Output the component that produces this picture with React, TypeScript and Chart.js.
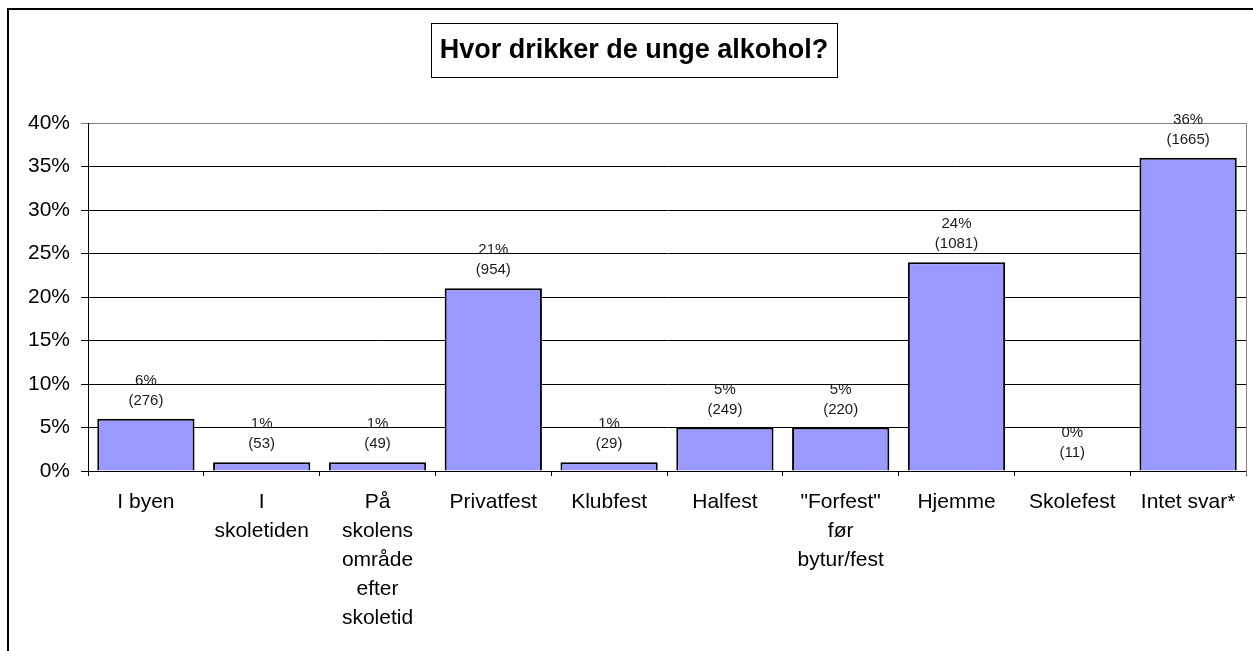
import React, { useEffect, useRef } from "react";
import { Chart, registerables } from "chart.js";

Chart.register(...registerables);

const titleText = "Hvor drikker de unge alkohol?";
const categories: string[][] = [
  ["I byen"],
  ["I", "skoletiden"],
  ["På", "skolens", "område", "efter", "skoletid"],
  ["Privatfest"],
  ["Klubfest"],
  ["Halfest"],
  ['"Forfest"', "før", "bytur/fest"],
  ["Hjemme"],
  ["Skolefest"],
  ["Intet svar*"],
];
const percentValues = [6, 1, 1, 21, 1, 5, 5, 24, 0, 36];
const counts = [276, 53, 49, 954, 29, 249, 220, 1081, 11, 1665];
const yMin = 0;
const yMax = 40;
const yStep = 5;

const FONT = "'Liberation Sans', Arial, Helvetica, sans-serif";

const decorPlugin = {
  id: "decor",
  beforeDraw(chart: any) {
    const ctx = chart.ctx;
    ctx.save();
    ctx.fillStyle = "#fff";
    ctx.fillRect(0, 0, chart.width, chart.height);
    ctx.restore();
  },
  afterDatasetsDraw(chart: any) {
    const ctx = chart.ctx;
    const meta = chart.getDatasetMeta(0);
    ctx.save();
    ctx.fillStyle = "#1a1a1a";
    ctx.font = `15px ${FONT}`;
    ctx.textAlign = "center";
    ctx.textBaseline = "middle";
    meta.data.forEach((bar: any, i: number) => {
      ctx.fillText(`${percentValues[i]}%`, bar.x, bar.y - 38);
      ctx.fillText(`(${counts[i]})`, bar.x, bar.y - 18);
    });
    ctx.restore();
  },
  afterDraw(chart: any) {
    const ctx = chart.ctx;
    const area = chart.chartArea;
    ctx.save();
    ctx.strokeStyle = "#808080";
    ctx.lineWidth = 1;
    ctx.beginPath();
    ctx.moveTo(Math.round(area.right) + 0.5, area.top);
    ctx.lineTo(Math.round(area.right) + 0.5, area.bottom + 4);
    ctx.stroke();
    ctx.strokeStyle = "#000";
    ctx.lineWidth = 2;
    ctx.strokeRect(8, 9, chart.width + 50, chart.height + 50);
    ctx.lineWidth = 1;
    ctx.strokeRect(431.5, 23.5, 406, 54);
    ctx.fillStyle = "#000";
    ctx.font = `bold 27px ${FONT}`;
    ctx.textAlign = "center";
    ctx.textBaseline = "middle";
    ctx.fillText(titleText, 634, 51);
    ctx.restore();
  },
};

export default function App() {
  const canvasRef = useRef<HTMLCanvasElement | null>(null);

  useEffect(() => {
    if (!canvasRef.current) return;
    const chart = new Chart(canvasRef.current, {
      type: "bar",
      data: {
        labels: categories,
        datasets: [
          {
            data: percentValues,
            backgroundColor: "#9999FF",
            borderColor: "#000",
            borderWidth: 2,
            barPercentage: 0.84,
            categoryPercentage: 1,
          },
        ],
      },
      options: {
        responsive: false,
        animation: false,
        devicePixelRatio: 1,
        layout: { padding: { top: 123, right: 7, left: 0, bottom: 0 } },
        plugins: {
          legend: { display: false },
          tooltip: { enabled: false },
          title: { display: false },
        },
        scales: {
          x: {
            afterFit(scale: any) {
              scale.height = 651 - 471;
            },
            grid: {
              display: true,
              drawOnChartArea: false,
              drawTicks: true,
              tickLength: 5,
              color: "#000",
              offset: true,
            },
            border: { color: "#000", width: 1 },
            ticks: {
              color: "#000",
              padding: 12,
              maxRotation: 0,
              autoSkip: false,
              font: { family: FONT, size: 21, lineHeight: 1.38 },
            },
          },
          y: {
            min: yMin,
            max: yMax,
            afterFit(scale: any) {
              scale.width = 88;
            },
            grid: {
              color: (c: any) => (c.tick && c.tick.value === yMax ? "#808080" : "#000"),
              tickLength: 7,
              drawTicks: true,
            },
            border: { color: "#000", width: 1 },
            ticks: {
              stepSize: yStep,
              color: "#000",
              padding: 11,
              font: { family: FONT, size: 21 },
              callback: (v: any) => `${v}%`,
            },
          },
        },
      },
      plugins: [decorPlugin],
    });
    return () => chart.destroy();
  }, []);

  return (
    <div style={{ position: "absolute", left: 0, top: 0, width: 1253, height: 651 }}>
      <canvas
        ref={canvasRef}
        width={1253}
        height={651}
        style={{ display: "block", width: 1253, height: 651 }}
      />
    </div>
  );
}
